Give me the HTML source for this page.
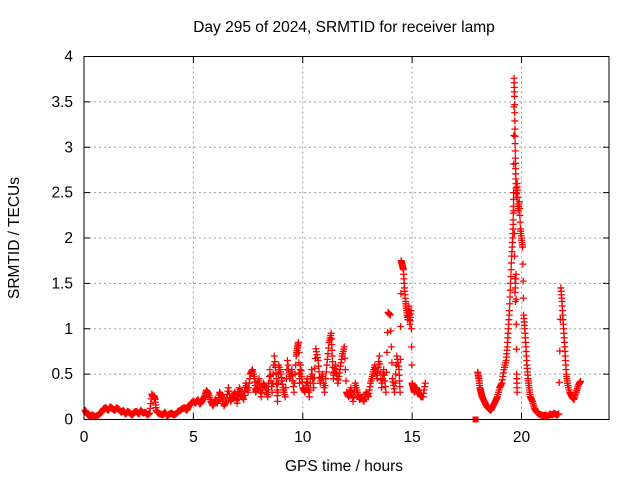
<!DOCTYPE html>
<html><head><meta charset="utf-8">
<style>
body{margin:0;background:#fff;}
svg text{font-family:"Liberation Sans",sans-serif;font-size:15.5px;fill:#000;}
</style></head>
<body>
<svg id="chart" width="640" height="480" xmlns="http://www.w3.org/2000/svg">
<rect width="640" height="480" fill="#fff"/>
<text x="344" y="32" text-anchor="middle">Day 295 of 2024, SRMTID for receiver lamp</text>
<text x="344" y="471" text-anchor="middle">GPS time / hours</text>
<text transform="translate(19,238) rotate(-90)" text-anchor="middle">SRMTID / TECUs</text>
<g id="grid"></g>
<g id="marks"></g>
<rect x="84" y="56.5" width="525" height="363" fill="none" stroke="#000" stroke-width="1"/>
<g id="ticks"></g>
</svg>
<script>
const xTicks=[0,5,10,15,20];
const yTicks=[0,0.5,1,1.5,2,2.5,3,3.5,4];
const yTickLabels=["0","0.5","1","1.5","2","2.5","3","3.5","4"];
const segQuiet=[[0.05,0.1],[0.1,0.08],[0.15,0.06],[0.2,0.05],[0.3,0.04],[0.4,0.05],[0.5,0.03],[0.6,0.04],[0.7,0.06],[0.8,0.08],[0.9,0.12],[1.0,0.13],[1.1,0.1],[1.2,0.14],[1.3,0.12],[1.4,0.1],[1.5,0.13],[1.6,0.11],[1.7,0.08],[1.8,0.1],[1.9,0.06],[2.0,0.09],[2.1,0.07],[2.2,0.05],[2.3,0.08],[2.4,0.09],[2.5,0.06],[2.6,0.1],[2.7,0.07],[2.8,0.08],[2.9,0.05],[3.0,0.07],[3.1,0.28],[3.15,0.25],[3.2,0.26],[3.25,0.22],[3.3,0.1],[3.4,0.07],[3.5,0.06],[3.6,0.05],[3.7,0.08],[3.8,0.04],[3.9,0.06],[4.0,0.07],[4.1,0.05],[4.2,0.06],[4.3,0.09],[4.4,0.1],[4.5,0.12],[4.6,0.13],[4.7,0.1],[4.8,0.15],[4.9,0.18]];
const segNoisy=[[5.0,0.2],[5.1,0.18],[5.2,0.22],[5.3,0.17],[5.4,0.2],[5.5,0.25],[5.6,0.32],[5.7,0.28],[5.8,0.2],[5.9,0.15],[6.0,0.22],[6.1,0.18],[6.2,0.3],[6.3,0.25],[6.4,0.15],[6.5,0.2],[6.6,0.35],[6.7,0.2],[6.8,0.25],[6.9,0.3],[7.0,0.18],[7.1,0.35],[7.2,0.28],[7.3,0.22],[7.4,0.4],[7.5,0.3],[7.6,0.5],[7.7,0.55],[7.8,0.45],[7.85,0.3],[7.9,0.35],[8.0,0.45],[8.1,0.25],[8.2,0.4],[8.3,0.35],[8.4,0.25],[8.5,0.55],[8.6,0.3],[8.7,0.7],[8.8,0.45],[8.85,0.2],[8.9,0.6],[9.0,0.5],[9.1,0.35],[9.2,0.25],[9.3,0.65],[9.4,0.45],[9.5,0.55],[9.6,0.3],[9.7,0.7],[9.75,0.78],[9.8,0.85],[9.85,0.4],[9.9,0.6],[10.0,0.35],[10.1,0.3],[10.2,0.45],[10.3,0.25],[10.4,0.55],[10.5,0.35],[10.6,0.78],[10.7,0.65],[10.8,0.4],[10.9,0.5],[11.0,0.3],[11.1,0.6],[11.2,0.85],[11.3,0.95],[11.35,0.7],[11.4,0.45],[11.5,0.6],[11.6,0.4],[11.7,0.55],[11.8,0.7],[11.9,0.8],[12.0,0.3],[12.1,0.25],[12.2,0.35],[12.3,0.2],[12.4,0.4],[12.5,0.3],[12.6,0.22],[12.7,0.25],[12.8,0.2],[12.9,0.3],[13.0,0.25],[13.1,0.4],[13.2,0.5],[13.3,0.6],[13.4,0.45],[13.5,0.7],[13.6,0.35],[13.7,0.55],[13.8,0.3],[13.9,1.18],[14.0,1.15],[14.1,0.45],[14.2,0.3],[14.3,0.7],[14.4,0.55],[14.45,0.3]];
const segPeak1=[[14.5,1.75],[14.55,1.7],[14.6,1.65],[14.65,1.45],[14.7,1.3],[14.75,1.2],[14.8,1.1],[14.85,1.25],[14.9,1.05],[14.95,1.2],[15.0,0.4],[15.05,0.35],[15.1,0.3],[15.2,0.35],[15.3,0.3],[15.4,0.25],[15.5,0.25],[15.6,0.4]];
const segEvening=[[17.9,0.0],[18.0,0.52],[18.05,0.45],[18.1,0.35],[18.15,0.3],[18.2,0.25],[18.3,0.2],[18.4,0.15],[18.5,0.12],[18.6,0.1],[18.7,0.15],[18.8,0.2],[18.9,0.25],[19.0,0.35],[19.1,0.4],[19.2,0.55],[19.3,0.65],[19.35,0.8],[19.4,1.0],[19.45,1.2],[19.5,1.5],[19.55,1.8],[19.6,2.0],[19.62,2.2],[19.64,2.5],[19.66,3.76],[19.68,3.56],[19.7,3.2],[19.72,2.88],[19.74,2.65],[19.76,2.45],[19.8,2.6],[19.85,2.3],[19.9,2.4],[19.95,2.1],[20.0,2.0],[20.05,1.9],[20.1,1.15],[20.15,1.0],[20.2,0.8],[20.25,0.6],[20.3,0.45],[20.35,0.35],[20.4,0.25],[20.5,0.2],[20.6,0.12],[20.7,0.08],[20.8,0.06],[20.9,0.05],[21.0,0.04],[21.1,0.05],[21.2,0.03],[21.3,0.06],[21.4,0.05],[21.5,0.07],[21.6,0.05],[21.7,0.06],[21.8,1.45],[21.85,1.3],[21.9,1.1],[21.95,0.9],[22.0,0.7],[22.05,0.5],[22.1,0.4],[22.2,0.3],[22.3,0.25],[22.4,0.22],[22.5,0.3],[22.6,0.38],[22.7,0.42],[19.7,1.4],[19.75,1.6],[19.78,0.5],[19.8,0.3],[19.65,2.3],[19.72,1.3]];
const X=v=>84+v*(525/24);
const Y=v=>419.5-v*(363/4);
const ns="http://www.w3.org/2000/svg";
const grid=document.getElementById('grid'),ticks=document.getElementById('ticks'),marks=document.getElementById('marks');
function mk(tag,attrs,parent){const e=document.createElementNS(ns,tag);for(const k in attrs)e.setAttribute(k,attrs[k]);parent.appendChild(e);return e;}
xTicks.forEach(t=>{
  const x=X(t);
  if(t>0){const g=mk('line',{x1:x,x2:x,y1:56.5,y2:419.5,stroke:'#a0a0a0','stroke-dasharray':'2,3'},grid);
  
  }
  mk('line',{x1:x,x2:x,y1:419.5,y2:413,stroke:'#000'},ticks);
  mk('line',{x1:x,x2:x,y1:56.5,y2:63,stroke:'#000'},ticks);
  const l=mk('text',{x:x,y:442,'text-anchor':'middle'},ticks);l.textContent=t;
  
  
});
yTicks.forEach((t,i)=>{
  const y=Y(t);
  if(t>0&&t<4){const g=mk('line',{x1:84,x2:609,y1:y,y2:y,stroke:'#a0a0a0','stroke-dasharray':'2,3'},grid);
  
  }
  mk('line',{x1:84,x2:90,y1:y,y2:y,stroke:'#000'},ticks);
  mk('line',{x1:603,x2:609,y1:y,y2:y,stroke:'#000'},ticks);
  const l=mk('text',{x:73,y:y+5,'text-anchor':'end'},ticks);l.textContent=yTickLabels[i];
  
  
});
const plus=(x,y)=>`M${x-3.5},${y}h7M${x},${y-3.5}v7`;
const all=[...segQuiet,...segNoisy,...segPeak1,...segEvening];
all.forEach((pt,i)=>{
  const x=X(pt[0]),y=Y(pt[1]);
  let p;
  if(pt[1]===0){p=mk('rect',{x:x-3,y:y-3,width:6,height:6,fill:'#ff0000'},marks);}
  else{
    const nx=all[i+1]&&all[i+1][0]>pt[0]&&all[i+1][0]-pt[0]<0.3?all[i+1]:pt;
    const x2=X(nx[0]),y2=Y(nx[1]);
    let d='';
    for(let k=0;k<4;k++){const f=k/4;d+=plus(x+(x2-x)*f,y+(y2-y)*f);}
    p=mk('path',{d:d,stroke:'#ff0000','stroke-width':1.3,fill:'none'},marks);
  }
  
  
});
</script>
</body></html>
